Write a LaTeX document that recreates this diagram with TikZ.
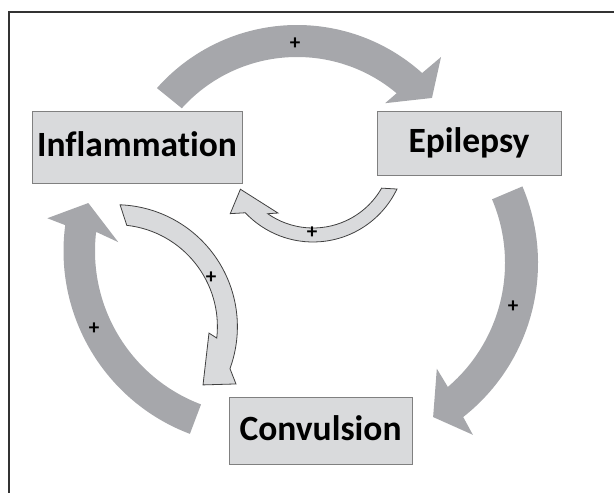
\documentclass[tikz,border=0pt]{standalone}
\usepackage{fontspec}
\setmainfont{Carlito}[Ligatures=NoCommon]
\usepackage{xcolor}
\usetikzlibrary{positioning}
\definecolor{boxfill}{HTML}{D9DADC}
\definecolor{boxline}{HTML}{808080}
\definecolor{bandgray}{HTML}{A6A7AB}
\definecolor{bandlight}{HTML}{D9DADC}
\tikzset{%
	factor/.style    = {draw=boxline, fill=boxfill, line width=1pt, rectangle, inner sep=0pt, text height=22pt, text depth=4pt, font=\fontsize{35.5}{40}\selectfont\bfseries},
	ringarrow/.style = {draw=none, fill=bandgray},
	backarrow/.style = {fill=bandlight, draw=black!75, line width=0.8pt},
	sign/.style      = {inner sep=0pt, font=\fontsize{21}{21}\selectfont\bfseries},
	frame/.style     = {draw=black!80, line width=1.2pt},
}
% #1 style, #2 centre, #3/#4 inner/outer radius, #5/#6 outer start/end, #7/#8 inner end/start, #9 head
\newcommand{\curvedband}[9]{\draw[#1, shift={(#2)}] (#5:#4) arc[start angle=#5, end angle=#6, radius=#4] -- #9 -- (#7:#3) arc[start angle=#7, end angle=#8, radius=#3] -- cycle;}

\begin{document}
\begin{tikzpicture}[x=1pt, y=1pt]
	\useasboundingbox (0,0) rectangle (614,493);
	\draw[frame] (614,481) -| (9,0);
	
	\coordinate (topc) at (297,281);
	\coordinate (rightc) at (342,230);
	\coordinate (leftc) at (259,242);
	\coordinate (lowc) at (313,344);
	\coordinate (sidec) at (115.4,166.3);
	
	\curvedband{ringarrow}{topc}{155}{187}{138.5}{48}{50}{138}{(47.1:211.6) -- (40.2:176.7) -- (51:140)}
	\curvedband{ringarrow}{rightc}{163}{196}{23}{-51.8}{-49.5}{23}{(-52.7:216) -- (-59.4:179) -- (-48.1:142)}
	\curvedband{ringarrow}{leftc}{164}{195.5}{249.3}{172.4}{173.3}{249.3}{(171.2:214.2) -- (164.3:177.3) -- (176.4:141)}
	\curvedband{backarrow}{lowc}{79}{93}{-25.5}{-136.7}{-125}{-29.7}{(-142:105) -- (-151:83) -- (-118.7:73)}
	\curvedband{backarrow}{sidec}{102}{122}{87.8}{-20.1}{-6.4}{83.6}{(-25.4:133.5) -- (-33.6:105.2) -- (-3.9:93.8)}
	
	\node[factor, minimum width=210pt, minimum height=72pt] (inflam) at (137,345) {Inflammation};
	\node[factor, minimum width=184pt, minimum height=64pt] (epi) at (469,349) {Epilepsy};
	\node[factor, minimum width=183pt, minimum height=67pt] (conv) at (320.5,61.5) {Convulsion};
	
	\node[sign] (plustop) at (295,449) {+};
	\node[sign] (plusright) at (513,186) {+};
	\node[sign] (plusleft) at (94,164) {+};
	\node[sign] (pluslow) at (312,260) {+};
	\node[sign] (plusside) at (211,215) {+};
\end{tikzpicture}
\end{document}
